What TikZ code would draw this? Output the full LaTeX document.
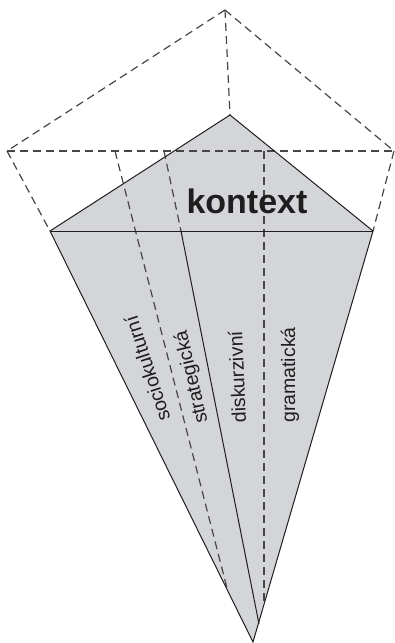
\documentclass[tikz,border=0pt]{standalone}
\usepackage{fontspec}
\setmainfont{Liberation Sans}
\definecolor{fillgray}{RGB}{212,213,216}
\definecolor{dashgray}{RGB}{70,70,70}
\definecolor{inkc}{RGB}{30,30,30}
\begin{document}
\begin{tikzpicture}[x=1pt,y=-1pt,
  dashline/.style={draw=dashgray,line width=1.2pt,dash pattern=on 8pt off 5pt},
  solidline/.style={draw=inkc,line width=1pt,line join=miter},
  lbl/.style={text=inkc,font=\fontsize{19.5}{22}\selectfont,inner sep=0pt},
  title/.style={text=inkc,font=\fontsize{34}{40}\selectfont\bfseries,inner sep=0pt}]
\useasboundingbox (0,0) rectangle (395,643);
% key points
\coordinate (T) at (225,10);
\coordinate (L) at (7,151);
\coordinate (R) at (394,151);
\coordinate (A) at (230,115);
\coordinate (BL) at (50,231);
\coordinate (BR) at (373,231);
\coordinate (Bot) at (253,642);
\coordinate (D1t) at (115,151);
\coordinate (D1b) at (228,592);
\coordinate (D2t) at (164,151);
\coordinate (D2m) at (181,231);
\coordinate (D2b) at (259,624);
\coordinate (D3t) at (264,151);
\coordinate (D3b) at (264,605);
% gray body
\fill[fillgray] (A) -- (BL) -- (Bot) -- (BR) -- cycle;
% dashed construction
\draw[dashline] (T) -- (L);
\draw[dashline] (T) -- (R);
\draw[dashline] (L) -- (R);
\draw[dashline] (T) -- (A);
\draw[dashline] (L) -- (BL);
\draw[dashline] (R) -- (BR);
\draw[dashline] (D1t) -- (D1b);
\draw[dashline] (D2t) -- (D2m);
\draw[dashline] (D3t) -- (D3b);
% solid outlines
\draw[solidline] (A) -- (BL) -- (Bot) -- (BR) -- cycle;
\draw[solidline] (BL) -- (BR);
\draw[solidline] (D2m) -- (D2b);
% texts
\node[title,anchor=base] (kon) at (247,213) {kontext};
\node[lbl,rotate=108] (soc) at (147,369) {sociokulturní};
\node[lbl,rotate=103] (str) at (192,377) {strategická};
\node[lbl,rotate=92.5] (dis) at (237,377) {diskurzivní};
\node[lbl,rotate=90] (gra) at (290,375) {gramatická};
\end{tikzpicture}
\end{document}
